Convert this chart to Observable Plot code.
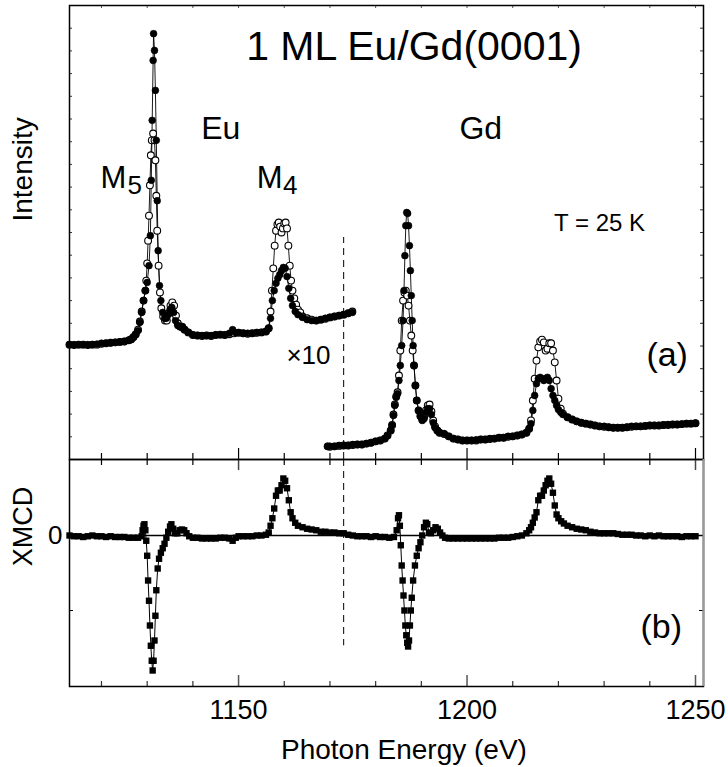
<!DOCTYPE html>
<html><head><meta charset="utf-8">
<script src="https://cdn.jsdelivr.net/npm/d3@7"></script>
<script src="https://cdn.jsdelivr.net/npm/@observablehq/plot@0.6"></script>
<style>html,body{margin:0;padding:0;background:#fff;} svg{display:block;}</style>
</head><body><div id="chart"></div>
<script>
// ---------- data (energy in eV, intensity in arbitrary units) ----------
const euClosed = [[1113,25.3],[1114,25.3],[1115,25.3],[1116,25.3],[1117,25.3],[1118,25.3],[1119,25.4],[1120,25.6],[1121,25.6],[1122,25.7],[1123,25.8],[1124,25.9],[1125,26.0],[1126,26.2],[1126.5,26.4],[1127,26.9],[1127.5,27.5],[1128,28.4],[1128.4,30.2],[1128.8,32.4],[1129.2,35.0],[1129.6,37.2],[1130.0,39.0],[1130.4,42.7],[1130.7,49.3],[1130.9,61.5],[1131.1,74.7],[1131.3,87.9],[1131.4,93.8],[1131.6,90.1],[1131.8,81.3],[1132.0,70.3],[1132.2,57.0],[1132.4,46.0],[1132.7,38.3],[1133.0,35.0],[1133.4,32.4],[1133.8,31.1],[1134.2,31.1],[1134.6,31.9],[1135.0,33.0],[1135.4,33.5],[1135.8,32.4],[1136.2,30.6],[1136.7,29.5],[1137.2,29.3],[1137.7,29.3],[1138.2,28.6],[1139,28.0],[1140,27.5],[1141,27.3],[1142,27.3],[1143,27.3],[1144,27.3],[1145,27.5],[1146,27.5],[1147,27.5],[1148,27.8],[1148.7,28.6],[1149.4,27.9],[1150,28.0],[1151,27.8],[1152,27.8],[1153,27.8],[1154,28.0],[1155,28.0],[1156,28.2],[1156.6,28.9],[1157.0,31.1],[1157.4,35.0],[1157.8,37.2],[1158.2,38.8],[1158.6,39.9],[1159.0,40.7],[1159.4,41.6],[1159.8,42.3],[1160.2,42.1],[1160.6,40.3],[1161.0,37.7],[1161.4,35.5],[1161.8,33.9],[1162.4,32.6],[1163.0,31.9],[1164,31.3],[1165,30.8],[1166,30.6],[1167,30.6],[1168,30.8],[1169,31.1],[1170,31.3],[1171,31.5],[1172,31.7],[1173,31.9],[1174,32.2],[1174.9,32.4]];

const euOpen = [[1113,25.3],[1114,25.2],[1115,25.3],[1116,25.3],[1117,25.2],[1118,25.3],[1119,25.3],[1120,25.5],[1121,25.6],[1122,25.7],[1123,25.8],[1124,25.9],[1125,26.0],[1126,26.3],[1126.5,26.5],[1127,27.0],[1127.5,27.6],[1128,28.6],[1128.4,30.4],[1128.8,32.6],[1129.2,35.0],[1129.6,37.2],[1129.8,39.4],[1130.0,43.2],[1130.2,48.2],[1130.4,53.7],[1130.6,60.4],[1130.8,67.0],[1131.0,70.3],[1131.3,71.8],[1131.6,70.3],[1131.8,65.9],[1132.0,58.1],[1132.2,50.4],[1132.5,42.7],[1132.8,36.8],[1133.1,33.3],[1133.5,31.5],[1133.9,30.6],[1134.3,30.6],[1134.7,32.2],[1135.1,33.9],[1135.5,34.6],[1135.9,33.9],[1136.3,31.7],[1136.7,30.0],[1137.2,29.3],[1137.7,29.1],[1138.2,28.6],[1139,28.0],[1140,27.4],[1141,27.3],[1142,27.2],[1143,27.3],[1144,27.2],[1145,27.4],[1146,27.5],[1147,27.4],[1148,27.6],[1149,27.8],[1150,27.9],[1151,27.8],[1152,27.7],[1153,27.8],[1154,27.9],[1155,28.0],[1156,28.2],[1156.6,28.9],[1157.0,32.6],[1157.3,37.2],[1157.6,42.1],[1157.9,47.1],[1158.2,50.4],[1158.5,51.8],[1158.8,52.2],[1159.1,51.3],[1159.4,50.0],[1159.7,50.9],[1160.0,52.0],[1160.3,52.2],[1160.6,50.9],[1160.9,47.1],[1161.2,42.7],[1161.5,39.4],[1161.8,37.2],[1162.2,35.5],[1162.6,34.1],[1163.0,33.0],[1163.5,32.4],[1164,31.5],[1165,31.1],[1166,30.8],[1167,30.6],[1168,30.8],[1169,31.0],[1170,31.3],[1171,31.5],[1172,31.7],[1173,31.9],[1174,32.2],[1174.9,32.6]];

const gdClosed = [[1169.5,2.9],[1170,2.9],[1171,2.9],[1172,3.1],[1173,3.1],[1174,3.1],[1175,3.3],[1176,3.3],[1177,3.3],[1178,3.5],[1179,3.7],[1180,4.0],[1181,4.2],[1182,4.6],[1182.6,5.3],[1183.3,6.4],[1183.6,7.5],[1183.9,9.7],[1184.2,11.9],[1184.5,13.7],[1184.8,14.5],[1185.1,17.4],[1185.4,20.7],[1185.7,25.1],[1186.0,30.6],[1186.2,37.2],[1186.4,44.9],[1186.6,51.5],[1186.8,54.4],[1187.0,54.2],[1187.2,51.5],[1187.4,47.1],[1187.6,41.6],[1187.8,36.1],[1188.0,30.6],[1188.2,25.1],[1188.4,20.7],[1188.7,16.3],[1189.0,13.0],[1189.4,10.8],[1189.8,9.5],[1190.2,8.6],[1190.6,9.0],[1191.0,10.4],[1191.4,11.2],[1191.8,11.2],[1192.2,9.9],[1192.6,8.1],[1193.0,7.0],[1193.5,6.4],[1194,5.9],[1195,5.7],[1196,5.1],[1197,4.6],[1198,4.4],[1199,4.2],[1200,4.2],[1201,4.2],[1202,4.3],[1203,4.4],[1204,4.4],[1205,4.6],[1206,4.6],[1207,4.8],[1208,4.8],[1209,5.1],[1210,5.1],[1211,5.3],[1212,5.5],[1213,5.9],[1213.6,6.8],[1214.0,7.9],[1214.4,10.8],[1214.8,14.1],[1215.2,16.7],[1215.6,17.8],[1216.0,18.1],[1216.4,17.8],[1216.8,17.4],[1217.2,17.8],[1217.6,18.1],[1218.0,17.4],[1218.4,15.6],[1218.8,14.1],[1219.2,13.0],[1219.6,11.9],[1220.0,11.0],[1220.5,10.4],[1221,9.9],[1222,9.3],[1223,8.8],[1224,8.4],[1225,8.1],[1226,7.9],[1227,7.7],[1228,7.5],[1229,7.3],[1230,7.3],[1231,7.1],[1232,7.0],[1233,7.0],[1234,7.0],[1235,7.1],[1236,7.3],[1237,7.3],[1238,7.3],[1239,7.4],[1240,7.5],[1241,7.5],[1242,7.5],[1243,7.6],[1244,7.7],[1245,7.7],[1246,7.7],[1247,7.8],[1248,7.9],[1249,7.9],[1250,8.0]];

const gdOpen = [[1169.5,2.9],[1170,2.8],[1171,2.9],[1172,3.0],[1173,3.1],[1174,3.1],[1175,3.2],[1176,3.3],[1177,3.3],[1178,3.5],[1179,3.7],[1180,4.0],[1181,4.2],[1182,4.6],[1182.6,5.3],[1183.3,6.4],[1183.6,7.6],[1183.9,9.9],[1184.2,12.1],[1184.5,13.9],[1184.8,14.8],[1185.1,18.5],[1185.4,24.0],[1185.7,30.6],[1186.0,35.0],[1186.3,36.8],[1186.6,37.2],[1186.9,36.1],[1187.2,33.9],[1187.5,30.6],[1187.8,27.3],[1188.1,24.0],[1188.4,20.7],[1188.7,16.3],[1189.0,13.0],[1189.4,10.8],[1189.8,9.6],[1190.2,8.8],[1190.6,9.4],[1191.0,10.8],[1191.4,11.9],[1191.8,12.1],[1192.2,10.6],[1192.6,8.6],[1193.0,7.3],[1193.5,6.4],[1194,5.9],[1195,5.6],[1196,5.1],[1197,4.6],[1198,4.4],[1199,4.2],[1200,4.2],[1201,4.2],[1202,4.2],[1203,4.4],[1204,4.4],[1205,4.5],[1206,4.6],[1207,4.8],[1208,4.8],[1209,5.0],[1210,5.1],[1211,5.3],[1212,5.5],[1213,5.9],[1213.6,6.8],[1214.0,8.6],[1214.4,13.0],[1214.8,17.8],[1215.2,21.8],[1215.6,24.7],[1216.0,26.0],[1216.4,26.4],[1216.8,25.8],[1217.2,24.0],[1217.6,24.4],[1218.0,25.6],[1218.4,25.6],[1218.8,24.0],[1219.2,21.4],[1219.6,17.4],[1220.0,13.4],[1220.5,11.2],[1221,10.1],[1222,9.3],[1223,8.8],[1224,8.4],[1225,8.1],[1226,7.9],[1227,7.7],[1228,7.5],[1229,7.3],[1230,7.2],[1231,7.1],[1232,7.0],[1233,7.0],[1234,7.0],[1235,7.1],[1236,7.2],[1237,7.3],[1238,7.3],[1239,7.4],[1240,7.5],[1241,7.5],[1242,7.5],[1243,7.6],[1244,7.6],[1245,7.7],[1246,7.7],[1247,7.8],[1248,7.9],[1249,7.9],[1250,8.0]];

const xmcd = [[1113,0],[1114,-0.01],[1115,-0.01],[1116,-0.02],[1117,-0.01],[1118,0],[1119,-0.01],[1120,-0.01],[1121,-0.02],[1122,-0.01],[1123,-0.02],[1124,-0.02],[1125,-0.02],[1126,-0.03],[1127,-0.03],[1128,-0.03],[1128.8,-0.01],[1129.0,0.07],[1129.2,0.13],[1129.4,0.15],[1129.6,0.07],[1129.8,-0.07],[1130.0,-0.27],[1130.2,-0.6],[1130.4,-0.87],[1130.6,-1.2],[1130.8,-1.47],[1131.0,-1.67],[1131.2,-1.8],[1131.4,-1.67],[1131.6,-1.4],[1131.8,-1.07],[1132.0,-0.73],[1132.3,-0.44],[1132.6,-0.31],[1133.0,-0.23],[1133.4,-0.17],[1133.8,-0.11],[1134.2,-0.03],[1134.6,0.05],[1135.0,0.12],[1135.3,0.15],[1135.7,0.09],[1136.1,0.03],[1136.6,0.03],[1137.1,0.07],[1137.6,0.08],[1138.1,0.07],[1138.6,0.03],[1139.2,-0.01],[1140,-0.03],[1141,-0.03],[1142,-0.04],[1143,-0.04],[1144,-0.04],[1145,-0.04],[1146,-0.03],[1147,-0.03],[1148,-0.04],[1148.7,-0.07],[1149.4,-0.03],[1150,-0.01],[1151,-0.01],[1152,-0.01],[1153,-0.01],[1154,0],[1155,0],[1156,0.01],[1156.6,0.04],[1157.0,0.13],[1157.4,0.23],[1157.8,0.36],[1158.2,0.53],[1158.6,0.6],[1159.0,0.6],[1159.4,0.67],[1159.8,0.76],[1160.2,0.73],[1160.6,0.63],[1161.0,0.47],[1161.4,0.31],[1161.8,0.23],[1162.4,0.17],[1163.0,0.13],[1164,0.11],[1165,0.09],[1166,0.08],[1167,0.07],[1168,0.05],[1169,0.05],[1170,0.04],[1171,0.04],[1172,0.03],[1173,0.03],[1174,0.01],[1175,0],[1176,-0.01],[1177,-0.01],[1178,-0.01],[1179,-0.02],[1180,-0.01],[1181,-0.02],[1182,-0.02],[1183,-0.03],[1184,-0.02],[1184.6,0.07],[1184.9,0.23],[1185.1,0.27],[1185.3,0.13],[1185.5,-0.13],[1185.7,-0.4],[1185.9,-0.6],[1186.1,-0.8],[1186.3,-1.0],[1186.5,-1.2],[1186.7,-1.33],[1186.9,-1.43],[1187.1,-1.48],[1187.3,-1.4],[1187.5,-1.2],[1187.7,-1.0],[1187.9,-0.83],[1188.2,-0.6],[1188.6,-0.4],[1189.0,-0.27],[1189.4,-0.17],[1189.8,-0.09],[1190.2,0],[1190.6,0.11],[1191.0,0.17],[1191.3,0.15],[1191.7,0.04],[1192.1,0.03],[1192.6,0.07],[1193.1,0.11],[1193.6,0.09],[1194.1,0.04],[1194.6,0],[1195.2,-0.03],[1196,-0.04],[1197,-0.04],[1198,-0.04],[1199,-0.04],[1200,-0.04],[1201,-0.04],[1202,-0.04],[1203,-0.04],[1204,-0.04],[1205,-0.04],[1206,-0.04],[1207,-0.03],[1208,-0.03],[1209,-0.03],[1210,-0.02],[1211,-0.01],[1212,0],[1213,0.03],[1213.6,0.07],[1214.0,0.11],[1214.4,0.17],[1214.8,0.24],[1215.2,0.31],[1215.6,0.47],[1216.0,0.53],[1216.4,0.53],[1216.8,0.6],[1217.2,0.67],[1217.6,0.73],[1218.0,0.76],[1218.4,0.69],[1218.8,0.57],[1219.2,0.4],[1219.6,0.28],[1220.0,0.23],[1220.6,0.19],[1221.2,0.16],[1222,0.13],[1223,0.11],[1224,0.09],[1225,0.08],[1226,0.07],[1227,0.05],[1228,0.04],[1229,0.03],[1230,0.03],[1231,0.03],[1232,0.03],[1233,0.02],[1234,0.01],[1235,0.01],[1236,0.01],[1237,0],[1238,0],[1239,-0.01],[1240,0],[1241,-0.01],[1242,0],[1243,-0.01],[1244,-0.01],[1245,-0.01],[1246,-0.01],[1247,-0.02],[1248,-0.01],[1249,-0.01],[1250,-0.01]];

// ---------- ticks, labels, annotations ----------
const xMajorTicks = [1150, 1200, 1250];
const xMinorTicks = [1120, 1130, 1140, 1160, 1170, 1180, 1190, 1210, 1220, 1230, 1240];
const intensityTicks = [5,10,15,20,25,30,35,40,45,50,55,60,65,70,75,80,85,90,95];
const xmcdTicks = [-1];
const xmcdTickLabels = [0];
const xTickLabels = [1150, 1200, 1250];
const xLabel = {label: "Photon Energy (eV)", energy: 1186.2};
const intensityLabel = {label: "Intensity", intensity: 63.9};
const xmcdLabel = {label: "XMCD", xmcd: 0.12};
const divider = {energy: 1173, intensityTop: 48.9, xmcdBottom: -1.47};

const titleNote = {label: "1 ML Eu/Gd(0001)", energy: 1188.4, intensity: 87.9};
const elementNotes = [
  {label: "Eu", energy: 1146.1, intensity: 70.7},
  {label: "Gd", energy: 1203.0, intensity: 70.7}
];
const edgeNotes = [
  {label: "M", energy: 1122.6, intensity: 59.7},
  {label: "M", energy: 1156.8, intensity: 59.7}
];
const edgeSubNotes = [
  {label: "5", energy: 1127.3, intensity: 58.4},
  {label: "4", energy: 1161.3, intensity: 58.4}
];
const tempNote = {label: "T = 25 K", energy: 1229.0, intensity: 50.4};
const panelANote = {label: "(a)", energy: 1243.8, intensity: 20.5};
const scaleNote = {label: "×10", energy: 1165.3, intensity: 21.1};
const panelBNote = {label: "(b)", energy: 1242.5, xmcd: -1.373};

const X_DOMAIN = [1113, 1251.75];
const FONT = "'Liberation Sans', Arial, Helvetica, sans-serif";

const series = [
  ...euClosed.map(d => ({e: d[0], v: d[1], s: "euC"})),
  ...euOpen.map(d => ({e: d[0], v: d[1], s: "euO"})),
  ...gdClosed.map(d => ({e: d[0], v: d[1], s: "gdC"})),
  ...gdOpen.map(d => ({e: d[0], v: d[1], s: "gdO"}))
];
const closedPts = series.filter(d => d.s === "euC" || d.s === "gdC");
const openPts = series.filter(d => d.s === "euO" || d.s === "gdO");
const xmcdPts = xmcd.map(d => ({e: d[0], v: d[1]}));

const txt = (d, opts) => Plot.text([d], {x: "energy", y: "intensity", text: "label", lineAnchor: "bottom", ...opts});

const panelA = Plot.plot({
  width: 728, height: 459,
  marginTop: 5, marginBottom: 0, marginLeft: 69, marginRight: 25,
  style: {fontFamily: FONT, background: "white", overflow: "visible"},
  x: {domain: X_DOMAIN, axis: null},
  y: {domain: [0, 100], axis: null},
  marks: [
    Plot.ruleX(xMinorTicks, {x: d => d, insetTop: 448, stroke: "black", strokeWidth: 1.2}),
    Plot.ruleX(xMajorTicks, {x: d => d, insetTop: 443, stroke: "black", strokeWidth: 1.2}),
    Plot.ruleX([...xMinorTicks, ...xMajorTicks], {x: d => d, insetBottom: 451, stroke: "#555", strokeWidth: 1}),
    Plot.ruleY(intensityTicks, {y: d => d, insetRight: 631, stroke: "#333", strokeWidth: 1}),
    Plot.ruleY(intensityTicks, {y: d => d, insetLeft: 631, stroke: "#333", strokeWidth: 1}),
    Plot.ruleX([divider], {x: "energy", y1: 0, y2: "intensityTop", stroke: "black", strokeWidth: 1, strokeDasharray: "7,5"}),
    Plot.line(series, {x: "e", y: "v", z: "s", stroke: "black", strokeWidth: 0.9}),
    Plot.dot(openPts, {x: "e", y: "v", r: 3.4, fill: "white", stroke: "black", strokeWidth: 1.1}),
    Plot.dot(closedPts, {x: "e", y: "v", r: 3.4, fill: "black", stroke: "black", strokeWidth: 0.6}),
    Plot.frame({stroke: "black", strokeWidth: 1.5}),
    txt(titleNote, {fontSize: 41}),
    Plot.text(elementNotes, {x: "energy", y: "intensity", text: "label", lineAnchor: "bottom", fontSize: 32}),
    Plot.text(edgeNotes, {x: "energy", y: "intensity", text: "label", lineAnchor: "bottom", fontSize: 31}),
    Plot.text(edgeSubNotes, {x: "energy", y: "intensity", text: "label", lineAnchor: "bottom", fontSize: 26}),
    txt(tempNote, {fontSize: 24}),
    txt(panelANote, {fontSize: 34}),
    txt(scaleNote, {fontSize: 26}),
    Plot.text([intensityLabel], {y: "intensity", text: "label", frameAnchor: "left", dx: -46, rotate: -90, textAnchor: "middle", lineAnchor: "middle", fontSize: 28})
  ]
});

const panelB = Plot.plot({
  width: 728, height: 308,
  marginTop: 0, marginBottom: 81, marginLeft: 69, marginRight: 25,
  style: {fontFamily: FONT, background: "white", overflow: "visible"},
  x: {domain: X_DOMAIN, axis: null},
  y: {domain: [-2.0133, 1.0133], axis: null},
  marks: [
    Plot.ruleX(xMinorTicks, {x: d => d, insetBottom: 221, stroke: "black", strokeWidth: 1.2}),
    Plot.ruleX(xMajorTicks, {x: d => d, insetBottom: 216, stroke: "#444", strokeWidth: 1.5}),
    Plot.ruleX(xMinorTicks, {x: d => d, insetTop: 222, stroke: "#333", strokeWidth: 1.2}),
    Plot.ruleX(xMajorTicks, {x: d => d, insetTop: 216, stroke: "#555", strokeWidth: 1.5}),
    Plot.ruleY(xmcdTicks, {y: d => d, insetRight: 630, stroke: "black", strokeWidth: 1}),
    Plot.ruleY(xmcdTicks, {y: d => d, insetLeft: 630, stroke: "black", strokeWidth: 1}),
    Plot.ruleY([0], {stroke: "black", strokeWidth: 1.4}),
    Plot.ruleX([divider], {x: "energy", y1: 1.0133, y2: "xmcdBottom", stroke: "black", strokeWidth: 1, strokeDasharray: "7,5"}),
    Plot.line(xmcdPts, {x: "e", y: "v", stroke: "black", strokeWidth: 1}),
    Plot.dot(xmcdPts, {x: "e", y: "v", symbol: "square", r: 3.6, fill: "black"}),
    Plot.frame({stroke: "black", strokeWidth: 1.5}),
    Plot.ruleX([X_DOMAIN[1]], {x: d => d, stroke: "#999", strokeWidth: 2}),
    Plot.text([panelBNote], {x: "energy", y: "xmcd", text: "label", lineAnchor: "bottom", fontSize: 34}),
    Plot.text(xmcdTickLabels, {y: d => d, text: d => String(d), frameAnchor: "left", dx: -7, textAnchor: "end", lineAnchor: "middle", fontSize: 26}),
    Plot.text([xmcdLabel], {y: "xmcd", text: "label", frameAnchor: "left", dx: -46, rotate: -90, textAnchor: "middle", lineAnchor: "middle", fontSize: 27}),
    Plot.text(xTickLabels, {x: d => d, text: d => String(d), frameAnchor: "bottom", dy: 32, lineAnchor: "bottom", fontSize: 27}),
    Plot.text([xLabel], {x: "energy", text: "label", frameAnchor: "bottom", dy: 72, lineAnchor: "bottom", fontSize: 28})
  ]
});

const root = document.getElementById("chart");
root.appendChild(panelA);
root.appendChild(panelB);
</script>
</body></html>
